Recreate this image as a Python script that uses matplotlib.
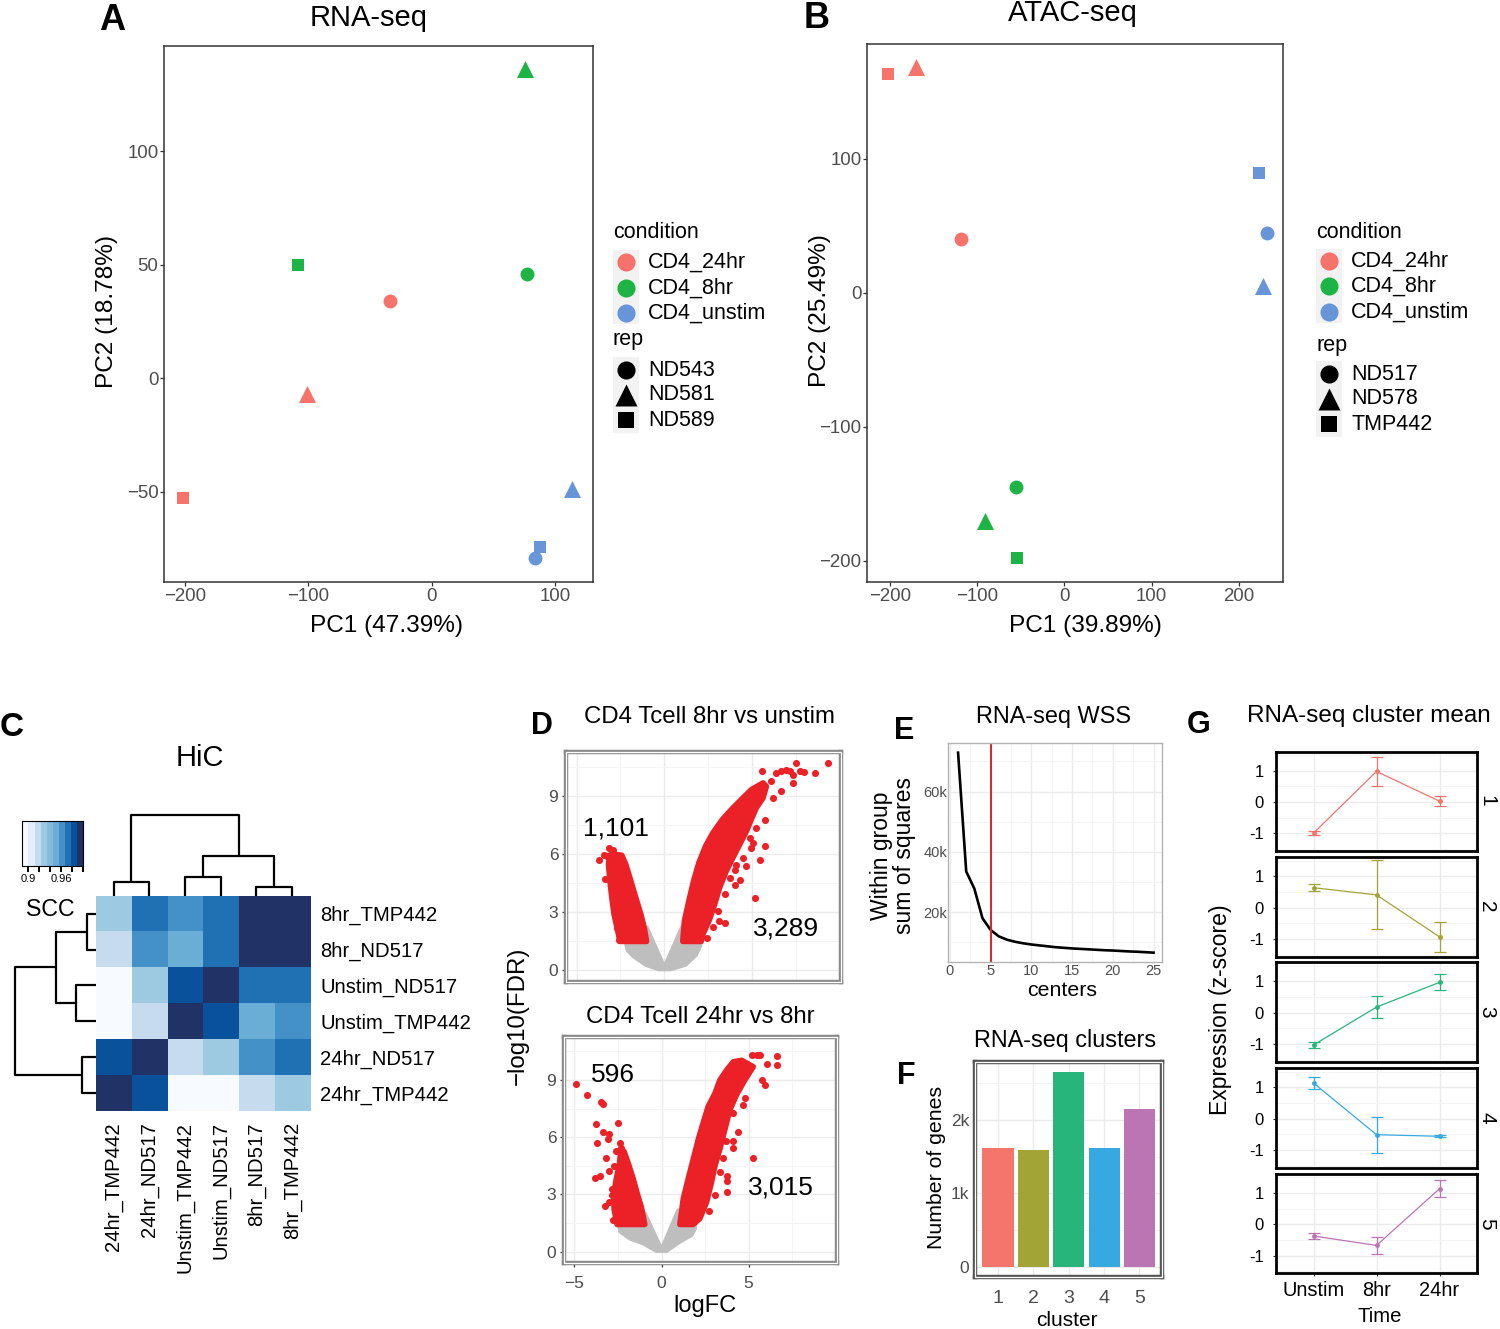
import matplotlib
matplotlib.use('Agg')
import matplotlib.pyplot as plt
import numpy as np
from matplotlib.colors import ListedColormap, BoundaryNorm
from matplotlib.patches import Rectangle
from matplotlib.ticker import MultipleLocator, FixedLocator

plt.rcParams['font.family'] = ['Liberation Sans', 'DejaVu Sans']

# ---------------- data ----------------
cond_names = ['CD4_24hr', 'CD4_8hr', 'CD4_unstim']
cond_colors = ['#F5736B', '#1DB445', '#6894D8']
rep_markers = ['o', '^', 's']
marker_size = {'o': 100, '^': 150, 's': 85}

# A: RNA-seq PCA (condition index, rep index)
rna_cond = [0, 0, 0, 1, 1, 1, 2, 2, 2]
rna_rep = [0, 1, 2, 0, 1, 2, 0, 1, 2]
rna_reps = ['ND543', 'ND581', 'ND589']
rna_pc1 = [-34, -101, -202, 77, 76, -108, 83.5, 114, 88]
rna_pc2 = [33.9, -7, -52.8, 45.7, 136, 50, -79, -48.8, -74]

# B: ATAC-seq PCA
atac_cond = [0, 0, 0, 1, 1, 1, 2, 2, 2]
atac_rep = [0, 1, 2, 0, 1, 2, 0, 1, 2]
atac_reps = ['ND517', 'ND578', 'TMP442']
atac_pc1 = [-118, -169.7, -201.8, -55, -90.6, -54, 231.7, 228, 222.5]
atac_pc2 = [40.3, 168.7, 163.4, -144.8, -170, -197.8, 44.8, 5.2, 89.6]

# C: HiC SCC
hic_rows = ['8hr_TMP442', '8hr_ND517', 'Unstim_ND517', 'Unstim_TMP442', '24hr_ND517', '24hr_TMP442']
hic_cols = ['24hr_TMP442', '24hr_ND517', 'Unstim_TMP442', 'Unstim_ND517', '8hr_ND517', '8hr_TMP442']
scc = [
    [0.928, 0.972, 0.961, 0.972, 0.995, 0.999],
    [0.917, 0.961, 0.950, 0.972, 0.999, 0.995],
    [0.895, 0.928, 0.983, 0.999, 0.972, 0.972],
    [0.895, 0.917, 0.999, 0.983, 0.950, 0.961],
    [0.983, 0.999, 0.917, 0.928, 0.961, 0.972],
    [0.999, 0.983, 0.895, 0.895, 0.917, 0.928],
]
scc_palette = ['#F7FBFF', '#E3EEF8', '#C7DBEF', '#9DC9E1', '#83BBDB',
               '#6AADD5', '#4391C6', '#2070B4', '#0A519C', '#213266']
# dendrogram merges: (cluster a, cluster b, height); leaves are 0..5, new clusters 6..
col_merges = [(0, 1, 0.135), (2, 3, 0.192), (4, 5, 0.083), (7, 8, 0.398), (6, 9, 0.812)]
row_merges = [(0, 1, 0.083), (2, 3, 0.192), (6, 7, 0.398), (4, 5, 0.135), (8, 9, 0.812)]

# D: volcano outlines (dense regions) and isolated points
v1_gray_x = [-1.0, -1.0, -2.2, -2.1, -1.75, -1.05, -0.35, 0.35, 1.2, 1.8, 2.05, 2.05, 1.05, 1.0, 0.0]
v1_gray_y = [2.2, 1.49, 1.49, 1.05, 0.72, 0.29, 0.06, 0.06, 0.29, 0.8, 1.3, 1.49, 1.49, 2.2, 0.15]
v1_left_x = [-2.53, -2.67, -2.86, -2.99, -3.10, -3.18, -3.14, -2.95, -2.42, -2.19, -1.90, -1.62, -1.33, -1.14, -1.01]
v1_left_y = [1.49, 2.10, 2.87, 3.73, 4.59, 5.45, 5.93, 6.0, 5.93, 5.45, 4.59, 3.73, 2.87, 2.18, 1.49]
v1_right_x = [1.05, 1.14, 1.39, 1.66, 1.96, 2.34, 2.76, 3.30, 3.81, 4.38, 4.95, 5.62, 5.81, 5.62,
              5.24, 4.95, 4.67, 4.29, 3.90, 3.52, 3.14, 2.86, 2.57, 2.19, 2.10]
v1_right_y = [1.49, 2.53, 3.56, 4.59, 5.53, 6.39, 7.08, 7.77, 8.28, 8.80, 9.31, 9.66, 9.48, 8.88,
              8.37, 7.77, 7.16, 6.48, 5.79, 5.10, 4.24, 3.38, 2.61, 1.84, 1.49]
v1_pts_x = [-3.71, -3.43, -3.14, -2.91, -3.37, -2.76, -2.57, -2.72, -3.28,
            6.38, 6.67, 6.95, 7.14, 7.33, 7.52, 7.75, 7.94, 7.33, 8.57, 9.33, 5.58, 6.67, 6.10, 6.19,
            5.71, 5.24, 5.05, 5.71, 5.43, 4.63, 4.0, 4.32, 4.0, 5.14, 3.47, 3.14, 4.10, 4.48, 4.95, 4.86,
            3.75, 3.45, 3.05, 2.75, 2.45]
v1_pts_y = [5.70, 5.93, 6.31, 6.22, 4.71, 2.61, 1.58, 2.18, 5.88,
            10.17, 10.29, 10.34, 10.29, 10.09, 10.69, 10.29, 10.22, 9.66, 10.17, 10.69, 10.29, 9.23, 9.74, 8.88,
            7.77, 7.34, 6.56, 6.39, 5.70, 5.36, 5.19, 4.67, 4.42, 3.73, 2.44, 2.53, 5.45, 5.79, 6.31, 6.82,
            4.75, 3.95, 3.05, 2.25, 1.65]

v2_gray_x = [-0.96, -0.96, -2.45, -2.35, -1.82, -1.05, -0.29, 0.29, 1.05, 1.72, 1.92, 1.92, 1.05, 0.96, 0.0]
v2_gray_y = [1.99, 1.42, 1.42, 1.04, 0.69, 0.43, 0.04, 0.04, 0.52, 0.87, 1.21, 1.42, 1.42, 2.16, 0.09]
v2_left_x = [-2.55, -2.72, -2.75, -2.6, -2.42, -2.35, -2.15, -1.9, -1.62, -1.38, -1.15, -0.96]
v2_left_y = [1.42, 2.2, 3.0, 3.8, 4.6, 5.2, 5.25, 4.6, 3.8, 3.0, 2.3, 1.42]
v2_right_x = [1.05, 1.25, 1.53, 1.82, 2.11, 2.39, 2.68, 3.07, 3.35, 3.74, 4.12, 4.60,
              5.27, 4.79, 4.31, 3.93, 3.64, 3.35, 3.07, 2.87, 2.59, 2.2, 1.82]
v2_right_y = [1.42, 2.77, 3.81, 4.84, 5.88, 6.75, 7.61, 8.30, 8.99, 9.52, 9.95, 10.03,
              9.69, 9.0, 8.22, 7.44, 6.4, 5.36, 4.5, 3.63, 2.6, 1.73, 1.42]
v2_pts_x = [-4.92, -4.27, -3.45, -3.35, -3.77, -2.49, -3.35, -3.70, -3.01, -3.07, -3.16, -2.74, -3.83,
            -3.51, -2.82, -3.26, -2.87, -2.78, -2.39, -2.30, -2.59, -3.0, -3.0,
            5.17, 5.46, 5.65, 6.61, 6.65, 6.03, 5.75, 5.94, 4.79, 4.69, 4.12, 4.41, 4.08, 3.70,
            4.12, 3.54, 5.27, 3.74, 3.74, 3.74, 3.35, 4.4, 3.05, 2.75]
v2_pts_y = [8.79, 8.22, 7.84, 7.75, 6.71, 6.75, 6.28, 5.71, 6.14, 5.92, 4.93, 4.50, 3.86,
            3.94, 3.29, 2.39, 2.94, 1.64, 5.71, 5.45, 5.28, 2.6, 4.2,
            10.29, 10.29, 10.29, 10.24, 9.78, 9.81, 9.0, 8.74, 8.04, 7.70, 7.27, 6.26, 5.80, 5.80,
            5.45, 4.93, 4.88, 3.94, 3.72, 3.11, 4.15, 9.2, 2.95, 2.15]

# E: WSS elbow
wss_k = list(range(1, 26))
wss = [72900, 33500, 27800, 18000, 14100, 12000, 10900, 10200, 9700, 9300, 9000, 8700, 8400,
       8200, 8000, 7850, 7700, 7550, 7400, 7300, 7150, 7000, 6900, 6750, 6600]
wss_choice = 5

# F: cluster sizes
clusters = [1, 2, 3, 4, 5]
cluster_sizes = [1614, 1591, 2659, 1623, 2145]
cluster_colors = ['#F4756C', '#A3A436', '#27B57C', '#36AAE0', '#BC75B3']

# G: cluster mean expression
times = ['Unstim', '8hr', '24hr']
clu_mean = [[-0.99, 0.98, 0.03], [0.64, 0.41, -0.93], [-1.03, 0.18, 0.97],
            [1.14, -0.51, -0.56], [-0.37, -0.67, 1.14]]
clu_err = [[0.07, 0.47, 0.16], [0.12, 1.10, 0.48], [0.10, 0.35, 0.26],
           [0.19, 0.57, 0.03], [0.11, 0.27, 0.28]]

# ---------------- layout helpers ----------------
W, H = 1500, 1329
fig = plt.figure(figsize=(15, 13.29), dpi=100)


def box(l, t, r, b):
    return fig.add_axes([l / W, 1 - b / H, (r - l) / W, (b - t) / H])


def pca(ax, pc1, pc2, cond, rep):
    for i in range(len(pc1)):
        m = rep_markers[rep[i]]
        ax.scatter(pc1[i], pc2[i], s=marker_size[m], marker=m, c=cond_colors[cond[i]], lw=0)
    for s in ax.spines.values():
        s.set_color('#333333')
        s.set_linewidth(1.1)
    ax.tick_params(colors='#333333', labelcolor='#4D4D4D', labelsize=13.4, length=3, width=0.9, pad=1)


def framed(ax, edge):
    for s in ax.spines.values():
        s.set_color(edge)
        s.set_linewidth(3.2)
    ax.add_patch(Rectangle((0, 0), 1, 1, transform=ax.transAxes, fill=False, ec='white',
                           lw=0.9, clip_on=False, zorder=5))


def grids(ax):
    ax.set_axisbelow(True)
    ax.grid(True, which='major', color='#EBEBEB', lw=1.0)
    ax.grid(True, which='minor', color='#F3F3F3', lw=0.6)


# ---------------- A ----------------
axA = box(164, 46, 593, 582)
pca(axA, rna_pc1, rna_pc2, rna_cond, rna_rep)
axA.set_xlim(-217, 130.8)
axA.set_ylim(-89.6, 146.2)
axA.set_xticks([-200, -100, 0, 100])
axA.set_yticks([-50, 0, 50, 100])

# ---------------- B ----------------
axB = box(867, 44, 1283, 582)
pca(axB, atac_pc1, atac_pc2, atac_cond, atac_rep)
axB.set_xlim(-226, 250.5)
axB.set_ylim(-215.7, 185.8)
axB.set_xticks([-200, -100, 0, 100, 200])
axB.set_yticks([-200, -100, 0, 100])

# ---------------- C ----------------
bounds = np.linspace(0.889, 1.0, 11)
cmap = ListedColormap(scc_palette)
norm = BoundaryNorm(bounds, cmap.N)
axC = box(95.7, 895.7, 310, 1111)
axC.imshow(np.array(scc), cmap=cmap, norm=norm, aspect='auto')
for s in axC.spines.values():
    s.set_visible(False)
axC.set_xticks(range(6))
axC.set_xticklabels(hic_cols, rotation=90, fontsize=14.6)
axC.set_yticks(range(6))
axC.set_yticklabels(hic_rows, fontsize=14.6)
axC.yaxis.tick_right()
axC.tick_params(axis='x', length=0, pad=8)
axC.tick_params(axis='y', length=0, pad=7.5)


def dendro(ax, merges, vertical_leaves):
    pos = {i: i + 0.5 for i in range(6)}
    hgt = {i: 0.0 for i in range(6)}
    nid = 6
    for a, b, h in merges:
        xs = [pos[a], pos[a], pos[b], pos[b]]
        ys = [hgt[a], h, h, hgt[b]]
        if vertical_leaves:
            ax.plot(xs, ys, color='black', lw=1.6, solid_capstyle='butt')
        else:
            ax.plot(ys, xs, color='black', lw=1.6, solid_capstyle='butt')
        pos[nid] = (pos[a] + pos[b]) / 2
        hgt[nid] = h
        nid += 1
    ax.axis('off')


axCt = box(95.7, 813, 310, 895.7)
dendro(axCt, col_merges, True)
axCt.set_xlim(0, 6)
axCt.set_ylim(0, 0.827)

axCl = box(13, 895.7, 95.7, 1111)
dendro(axCl, row_merges, False)
axCl.set_ylim(6, 0)
axCl.set_xlim(0.827, 0)

axCb = box(22.3, 820.7, 83.3, 866)
mids = (bounds[:-1] + bounds[1:]) / 2
axCb.pcolormesh(bounds, [0, 1], mids[None, :], cmap=cmap, norm=norm)
axCb.set_xlim(bounds[0], bounds[-1])
axCb.set_yticks([])
axCb.set_xticks([0.9, 0.92, 0.94, 0.96, 0.98, 1.0])
axCb.set_xticklabels(['0.9', '', '', '0.96', '', ''], fontsize=8)
axCb.tick_params(axis='x', length=4.5, width=1.4, pad=1.5)
for s in axCb.spines.values():
    s.set_linewidth(0.8)

# ---------------- D ----------------
RED = '#EC2027'
GREY = '#BEBEBE'


def volcano(ax, gx, gy, lx, ly, rx, ry, px, py):
    ax.fill(gx, gy, fc=GREY, ec=GREY, lw=3, joinstyle='round', zorder=2)
    ax.fill(lx, ly, fc=RED, ec=RED, lw=4, joinstyle='round', zorder=3)
    ax.fill(rx, ry, fc=RED, ec=RED, lw=4, joinstyle='round', zorder=3)
    ax.scatter(px, py, s=26, c=RED, lw=0, zorder=3)
    ax.set_xlim(-5.6, 10.06)
    ax.set_ylim(-0.6, 11.25)
    ax.xaxis.set_major_locator(FixedLocator([-5, 0, 5]))
    ax.xaxis.set_minor_locator(FixedLocator([-2.5, 2.5, 7.5, 10]))
    ax.yaxis.set_major_locator(FixedLocator([0, 3, 6, 9]))
    ax.yaxis.set_minor_locator(FixedLocator([1.5, 4.5, 7.5, 10.5]))
    grids(ax)
    framed(ax, '#8A8A8A')
    ax.tick_params(which='minor', length=0)
    ax.tick_params(colors='#333333', labelcolor='#4D4D4D', labelsize=12.5, length=3, width=0.9)
    ax.tick_params(axis='y', pad=2.5)
    ax.tick_params(axis='x', pad=6)


axD1 = box(566, 752, 841, 982)
volcano(axD1, v1_gray_x, v1_gray_y, v1_left_x, v1_left_y, v1_right_x, v1_right_y, v1_pts_x, v1_pts_y)
axD1.tick_params(axis='x', length=0, labelbottom=False)
axD1.text(-2.77, 7.33, '1,101', fontsize=19, ha='center', va='center', zorder=6)
axD1.text(6.95, 2.18, '3,289', fontsize=19, ha='center', va='center', zorder=6)

axD2 = box(564, 1037, 836.7, 1263)
volcano(axD2, v2_gray_x, v2_gray_y, v2_left_x, v2_left_y, v2_right_x, v2_right_y, v2_pts_x, v2_pts_y)
axD2.text(-2.78, 9.26, '596', fontsize=19, ha='center', va='center', zorder=6)
axD2.text(6.84, 3.37, '3,015', fontsize=19, ha='center', va='center', zorder=6)

# ---------------- E ----------------
axE = box(948.3, 743.3, 1161.7, 961.7)
axE.plot(wss_k, wss, color='black', lw=1.9)
axE.axvline(wss_choice, color='#D82428', lw=1.4)
axE.set_xlim(-0.2, 26)
axE.set_ylim(3600, 76000)
axE.xaxis.set_major_locator(MultipleLocator(5))
axE.xaxis.set_minor_locator(MultipleLocator(2.5))
axE.set_yticks([20000, 40000, 60000])
axE.set_yticklabels(['20k', '40k', '60k'])
axE.yaxis.set_minor_locator(FixedLocator([10000, 30000, 50000, 70000]))
grids(axE)
for s in axE.spines.values():
    s.set_color('#B3B3B3')
    s.set_linewidth(1.0)
axE.tick_params(which='both', length=0)
axE.tick_params(labelcolor='#4D4D4D', labelsize=10.5)
axE.tick_params(axis='y', pad=1)
axE.tick_params(axis='x', pad=2)

# ---------------- F ----------------
axF = box(975, 1061.7, 1161.7, 1277.3)
axF.bar(clusters, cluster_sizes, width=0.88, color=cluster_colors, zorder=2)
axF.set_xlim(0.35, 5.63)
axF.set_ylim(-145, 2795)
axF.set_xticks(clusters)
axF.set_yticks([0, 1000, 2000])
axF.set_yticklabels(['0', '1k', '2k'])
axF.yaxis.set_minor_locator(FixedLocator([500, 1500, 2500]))
grids(axF)
framed(axF, '#555555')
axF.tick_params(which='both', length=0)
axF.tick_params(axis='y', labelcolor='#4D4D4D', labelsize=12.5, pad=4)
axF.tick_params(axis='x', labelcolor='#4D4D4D', labelsize=14, pad=9)

# ---------------- G ----------------
g_tops = [751.7, 857.3, 962.3, 1068.3, 1174]
for k in range(5):
    ax = box(1275.7, g_tops[k], 1477.3, g_tops[k] + 99.3)
    ax.errorbar([1, 2, 3], clu_mean[k], yerr=clu_err[k], color=cluster_colors[k], lw=0.9,
                elinewidth=0.9, capsize=4, capthick=0.9, marker='o', ms=2.5)
    ax.set_xlim(0.4, 3.6)
    ax.set_ylim(-1.56, 1.61)
    ax.set_xticks([1, 2, 3])
    ax.set_yticks([-1, 0, 1])
    ax.set_yticklabels(['-1', '0', '1'])
    ax.yaxis.set_minor_locator(FixedLocator([-1.5, -0.5, 0.5, 1.5]))
    grids(ax)
    for s in ax.spines.values():
        s.set_color('black')
        s.set_linewidth(2.0)
    ax.tick_params(which='minor', length=0)
    ax.tick_params(colors='#333333', labelcolor='black', labelsize=12, length=2.5, width=0.8)
    ax.tick_params(axis='y', pad=6)
    if k < 4:
        ax.tick_params(axis='x', labelbottom=False, length=0)
    else:
        ax.set_xticklabels(times)
        ax.tick_params(axis='x', labelsize=14.4, pad=3)
    fig.text(1487 / W, 1 - (g_tops[k] + 49.6) / H, str(k + 1), rotation=-90,
             fontsize=15, ha='center', va='center')

# ---------------- overlay text / legends ----------------
lay = fig.add_axes([0, 0, 1, 1])
lay.set_xlim(0, W)
lay.set_ylim(H, 0)
lay.axis('off')
lay.set_zorder(10)


def txt(x, y, s, size, **kw):
    kw.setdefault('ha', 'center')
    kw.setdefault('va', 'center')
    lay.text(x, y, s, fontsize=size, **kw)


def legend(x0, y_cond, y_entries, y_rep, y_reps, reps):
    txt(x0, y_cond, 'condition', 15.5, ha='left')
    lay.add_patch(Rectangle((x0, y_entries[0] - 12), 26, 74, fc='#F2F2F2', ec='none'))
    for i in range(3):
        lay.scatter(x0 + 13, y_entries[i], s=170, marker='o', c=cond_colors[i], lw=0)
        txt(x0 + 35, y_entries[i], cond_names[i], 15.5, ha='left')
    txt(x0, y_rep, 'rep', 15.5, ha='left')
    lay.add_patch(Rectangle((x0, y_reps[0] - 13), 26, 76, fc='#F2F2F2', ec='none'))
    lsize = {'o': 170, '^': 250, 's': 130}
    for i in range(3):
        m = rep_markers[i]
        lay.scatter(x0 + 13, y_reps[i], s=lsize[m], marker=m, c='black', lw=0)
        txt(x0 + 35, y_reps[i], reps[i], 15.5, ha='left')


legend(613, 233, [262, 288, 313], 340, [370, 395, 420], rna_reps)
legend(1316, 232, [261, 286, 312], 345, [374, 399, 424], atac_reps)

txt(112, 20, 'A', 26, fontweight='bold')
txt(369, 18, 'RNA-seq', 21)
txt(386, 626, 'PC1 (47.39%)', 17.6)
txt(107, 311, 'PC2 (18.78%)', 17.6, rotation=90)

txt(817, 18, 'B', 26, fontweight='bold')
txt(1073, 13, 'ATAC-seq', 21)
txt(1085, 626, 'PC1 (39.89%)', 17.6)
txt(820, 311, 'PC2 (25.49%)', 17.6, rotation=90)

txt(12, 727, 'C', 24, fontweight='bold')
txt(200, 758, 'HiC', 21)
txt(50, 910, 'SCC', 16.7)

txt(542, 726, 'D', 22, fontweight='bold')
txt(710, 717, 'CD4 Tcell 8hr vs unstim', 17.3)
txt(700, 1017, 'CD4 Tcell 24hr vs 8hr', 17.3)
txt(518, 1016, '\u2212log10(FDR)', 17.3, rotation=90)
txt(705, 1306, 'logFC', 17)

txt(904, 731, 'E', 22, fontweight='bold')
txt(1054, 716, 'RNA-seq WSS', 16.9)
txt(893, 856, 'Within group\nsum of squares', 16.5, rotation=90, linespacing=1.0)
txt(1062, 990, 'centers', 15.4)

txt(906, 1076, 'F', 22, fontweight='bold')
txt(1065, 1040, 'RNA-seq clusters', 16.8)
txt(937, 1167, 'Number of genes', 15.3, rotation=90)
txt(1067, 1320, 'cluster', 15)

txt(1199, 725, 'G', 22, fontweight='bold')
txt(1369, 716, 'RNA-seq cluster mean', 17.5)
txt(1221, 1010, 'Expression (z-score)', 16.6, rotation=90)
txt(1380, 1316, 'Time', 14.6)

fig.savefig('out.png', dpi=100)
